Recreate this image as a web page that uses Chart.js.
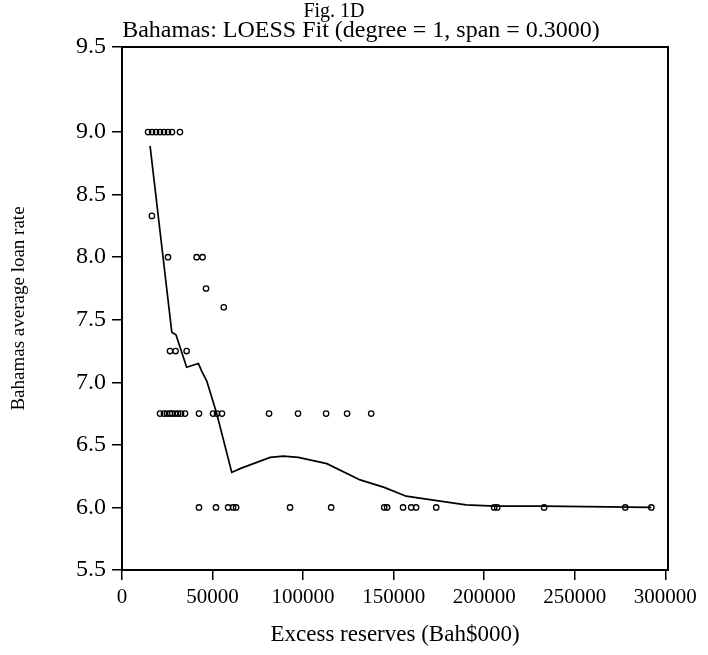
<!DOCTYPE html>
<html>
<head>
<meta charset="utf-8">
<script src="https://cdn.jsdelivr.net/npm/chart.js@4"></script>
<style>
  html, body { margin: 0; padding: 0; background: #fff; }
  #wrap { width: 708px; height: 655px; }
</style>
</head>
<body>
<div id="wrap"><canvas id="loessChart" width="708" height="655"></canvas></div>
<script>
// --- observações (Excess reserves, loan rate) ---
const obsX = [
  14400, 16600, 18800, 21000, 23200, 25400, 27600, 32000,      // 9.00
  16500,                                                        // 8.33
  25400, 41200, 44500,                                          // 8.00
  46400,                                                        // 7.75
  56200,                                                        // 7.60
  26500, 29600, 35700,                                          // 7.25
  21000, 23200, 24900, 26500, 27600, 29300, 30900, 32600, 34800,
  42500, 50300, 52500, 55200, 81200, 97200, 112700, 124300, 137600, // 6.75
  42500, 51900, 58600, 61300, 63000, 92800, 115500, 144800, 146400,
  155200, 159700, 162400, 173500, 205500, 207200, 233100, 277900, 292300 // 6.00
];
const obsY = [
  9, 9, 9, 9, 9, 9, 9, 9,
  8.33,
  8, 8, 8,
  7.75,
  7.6,
  7.25, 7.25, 7.25,
  6.75, 6.75, 6.75, 6.75, 6.75, 6.75, 6.75, 6.75, 6.75,
  6.75, 6.75, 6.75, 6.75, 6.75, 6.75, 6.75, 6.75, 6.75,
  6, 6, 6, 6, 6, 6, 6, 6, 6,
  6, 6, 6, 6, 6, 6, 6, 6, 6
];

// --- curva LOESS (degree = 1, span = 0.3) ---
const fitX = [15500, 27500, 29800, 35700, 42200, 44000, 46800, 52300, 60600, 65200,
  81800, 89100, 97400, 113100, 131500, 144800, 156900, 175700, 190000, 206000, 232000, 292300];
const fitY = [8.89, 7.40, 7.38, 7.12, 7.15, 7.09, 7.01, 6.75, 6.28, 6.31,
  6.40, 6.41, 6.40, 6.35, 6.22, 6.16, 6.09, 6.05, 6.02, 6.01, 6.01, 6.00];

// eixo Y: no original o rótulo "9.5" fica no topo da moldura
const yMin = 5.5;
const yMax = 9.68;
const yTicks = [5.5, 6.0, 6.5, 7.0, 7.5, 8.0, 8.5, 9.0, 9.68];
const yTickLabels = ['5.5', '6.0', '6.5', '7.0', '7.5', '8.0', '8.5', '9.0', '9.5'];
const xTicks = [0, 50000, 100000, 150000, 200000, 250000, 300000];

const titleText = 'Fig. 1D';
const subtitleText = 'Bahamas: LOESS Fit (degree = 1, span = 0.3000)';

const serif = "'Liberation Serif', 'DejaVu Serif', serif";

// moldura + subtítulo (deslocado à direita como no original)
const frame = {
  id: 'frame',
  afterDraw(chart) {
    const { ctx, chartArea: a } = chart;
    ctx.save();
    ctx.strokeStyle = '#000';
    ctx.lineWidth = 2;
    ctx.strokeRect(a.left, a.top, a.right - a.left, a.bottom - a.top);
    ctx.fillStyle = '#000';
    ctx.font = `24px ${serif}`;
    ctx.textAlign = 'center';
    ctx.textBaseline = 'middle';
    ctx.fillText(subtitleText, 361, 31);
    ctx.restore();
  }
};

const tickGrid = {
  display: true,
  drawOnChartArea: false,
  drawTicks: true,
  tickLength: 10,
  color: '#000',
  lineWidth: 1.5
};

new Chart(document.getElementById('loessChart').getContext('2d'), {
  type: 'scatter',
  data: {
    datasets: [
      {
        label: 'obs',
        data: obsX.map((x, i) => ({ x, y: obsY[i] })),
        showLine: false,
        pointStyle: 'circle',
        pointRadius: 2.7,
        pointBorderWidth: 1.3,
        pointBorderColor: '#000',
        pointBackgroundColor: 'rgba(0,0,0,0)'
      },
      {
        label: 'fit',
        data: fitX.map((x, i) => ({ x, y: fitY[i] })),
        showLine: true,
        borderColor: '#000',
        borderWidth: 1.7,
        pointRadius: 0,
        tension: 0
      }
    ]
  },
  options: {
    responsive: false,
    animation: false,
    layout: { padding: { left: 0, right: 40, top: 0, bottom: 0 } },
    plugins: {
      legend: { display: false },
      tooltip: { enabled: false },
      title: {
        display: true,
        text: titleText,
        color: '#000',
        font: { family: serif, size: 20, weight: 'normal', lineHeight: 1.0 },
        padding: { top: 2, bottom: 25 }
      },
      subtitle: { display: false }
    },
    scales: {
      x: {
        type: 'linear',
        min: 0,
        max: 301500,
        afterFit: s => { s.height = 85; },
        afterBuildTicks: s => { s.ticks = xTicks.map(v => ({ value: v })); },
        ticks: {
          color: '#000',
          padding: 5,
          maxRotation: 0,
          font: { family: serif, size: 21 },
          callback: v => String(v)
        },
        grid: tickGrid,
        border: { display: false },
        title: {
          display: true,
          text: 'Excess reserves (Bah$000)',
          color: '#000',
          font: { family: serif, size: 23 },
          padding: { top: 0, bottom: 6 }
        }
      },
      y: {
        type: 'linear',
        min: yMin,
        max: yMax,
        afterFit: s => { s.width = 122; },
        afterBuildTicks: s => { s.ticks = yTicks.map(v => ({ value: v })); },
        ticks: {
          color: '#000',
          padding: 6,
          font: { family: serif, size: 24 },
          callback: (v, i) => yTickLabels[i]
        },
        grid: tickGrid,
        border: { display: false },
        title: {
          display: true,
          text: 'Bahamas average loan rate',
          color: '#000',
          font: { family: serif, size: 19 },
          padding: { top: 8, bottom: 0 }
        }
      }
    }
  },
  plugins: [frame]
});
</script>
</body>
</html>
